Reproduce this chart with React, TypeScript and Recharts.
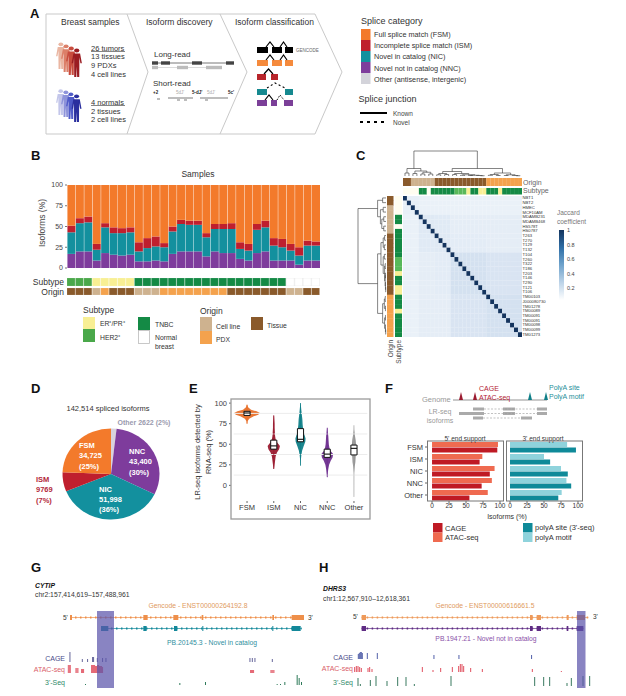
import React from 'react';
import {
  BarChart, Bar, XAxis, YAxis, Cell, PieChart, Pie, ScatterChart, Scatter, ComposedChart, Area,
  ReferenceArea, ReferenceLine,
} from 'recharts';

// ---------- Palette
const C = { fsm: '#f37a2b', ism: '#bf1f2e', nic: '#13909e', nnc: '#7e3c9c', other: '#d3d3da' };

// ---------- Panel B
const nncB = [17, 20, 20, 9, 18, 16, 15, 16, 8, 8, 9, 8, 17, 20, 20, 20, 14, 20, 18, 18, 11, 9, 18, 20, 9, 9, 9, 4, 9, 9];
const nicB = [26, 34, 35, 13, 31, 26, 27, 27, 12, 16, 17, 17, 27, 33, 32, 32, 23, 27, 29, 29, 12, 12, 28, 29, 18, 16, 12, 11, 18, 18];
const ismB = [8, 6, 7, 7, 5, 7, 6, 6, 11, 12, 12, 5, 6, 5, 5, 5, 5, 6, 6, 7, 8, 8, 7, 8, 9, 10, 8, 10, 6, 5];
const fsmB = [49, 40, 38, 71, 46, 51, 52, 51, 69, 64, 62, 70, 50, 42, 43, 43, 58, 47, 47, 46, 69, 71, 47, 43, 64, 65, 71, 75, 67, 68];
const subtypeB = ['H','H','H','E','E','E','E','E','T','T','T','T','T','T','T','T','T','T','T','T','T','T','T','T','T','T','N','N','N','N'];
const originB = ['Ti','Ti','Ti','Ce','Pd','Ti','Ti','Ti','Ce','Ce','Ce','Pd','Pd','Pd','Pd','Pd','Pd','Pd','Pd','Ti','Ti','Ti','Ti','Ti','Ti','Ti','Ce','Ce','Ti','Ti'];
const stripColors: Record<string, string> = { H: '#4aa84a', E: '#f8ef94', T: '#148a45', N: '#ffffff', L: '#58b85a', Ti: '#8a5a2b', Ce: '#ceb28f', Pd: '#f4a24d', W: '#fffdf0' };
const rowsB = nncB.map((_, i) => ({ s: i, nnc: nncB[i], nic: nicB[i], ism: ismB[i], fsm: fsmB[i] }));

// ---------- Panel C
const heatLabels = ['NBT1','NBT2','HMEC','MCF10AM','MDAMB231','MDAMB468','HS578T','HS0787','T263','T270','T129','T132','T104','T260','T322','T186','T203','T146','T290','T121','T106','TM00103','J000080730','TM01278','TM00089','TM00091','TM00091','TM00098','TM00099','TM01273'];
const heatOrigin = ['Ti','Ti','Ce','Ce','Ce','Ce','Ce','Ce','Ti','Ti','Ti','Ti','Ti','Ti','Ti','Ti','Ti','Ti','Ti','Ti','Ti','Pd','Pd','Pd','Pd','Pd','Pd','Pd','Pd','Pd'];
const heatSubtype = ['N','N','N','N','T','T','N','T','T','T','T','T','T','L','L','L','E','T','T','E','E','T','T','T','E','T','T','T','T','T'];
const heatGroup = [0,0,0,0,1,1,1,1,2,2,2,2,3,3,3,3,3,3,3,3,3,4,4,4,4,4,4,4,4,4];
const jaccardByGroup = [
  [0.14, 0.12, 0.12, 0.12, 0.12],
  [0.12, 0.2, 0.19, 0.16, 0.16],
  [0.12, 0.19, 0.2, 0.17, 0.16],
  [0.12, 0.16, 0.17, 0.27, 0.24],
  [0.12, 0.16, 0.16, 0.24, 0.27],
];
const jaccardStops: [number, string][] = [[0, '#ffffff'], [0.12, '#eaf1f8'], [0.2, '#dfe9f4'], [0.3, '#cfddee'], [0.6, '#6fa3cc'], [0.8, '#2f6ea6'], [1, '#14345e']];
type Node = number | [number, Node, Node];
const dendroTree: Node = [1,
  [0.3, [0.12, 0, 1], [0.2, [0.1, 2, 3], [0.15, [0.08, 4, 5], [0.08, 6, 7]]]],
  [0.3,
    [0.18, [0.1, [0.05, 8, 9], [0.06, 10, 11]], [0.1, [0.06, 12, 13], [0.05, [0.03, 14, 15], [0.03, [0.02, 16, 17], [0.02, 18, [0.01, 19, 20]]]]]],
    [0.12, [0.06, [0.03, 21, 22], [0.02, 23, 24]], [0.05, [0.02, 25, 26], [0.02, 27, [0.01, 28, 29]]]],
  ],
];
const jaccardTicks = [1, 0.8, 0.6, 0.4, 0.2];

// ---------- Panel D
const pieNames = ['Other', 'NNC', 'NIC', 'ISM', 'FSM'];
const pieValues = [2622, 43400, 51998, 9769, 34725];
const pieColors = ['#d8d2dc', C.nnc, C.nic, C.ism, C.fsm];

// ---------- Panel E
const violinNames = ['FSM', 'ISM', 'NIC', 'NNC', 'Other'];
const violinColors = ['#e8702a', '#9b1b30', '#0f7f88', '#6f2f8f', '#777777'];
const violinY = [
  [75, 78, 81, 84, 86, 88, 90, 92, 95, 98],
  [20, 25, 30, 35, 40, 44, 48, 52, 56, 60, 65, 70, 75, 80, 85],
  [24, 30, 36, 42, 48, 53, 57, 62, 68, 74, 80, 86, 92, 100],
  [10, 15, 20, 25, 30, 34, 38, 42, 46, 50, 55, 60, 65, 70],
  [-14, 0, 15, 23, 28, 35, 45, 50, 55, 62, 68, 73],
];
const violinW = [
  [0.01, 0.02, 0.08, 0.25, 0.42, 0.48, 0.36, 0.15, 0.04, 0.01],
  [0.01, 0.03, 0.05, 0.07, 0.12, 0.2, 0.23, 0.13, 0.07, 0.05, 0.04, 0.03, 0.03, 0.02, 0.01],
  [0.005, 0.01, 0.03, 0.06, 0.12, 0.18, 0.19, 0.14, 0.1, 0.08, 0.07, 0.05, 0.03, 0.005],
  [0.005, 0.02, 0.04, 0.07, 0.13, 0.2, 0.22, 0.12, 0.08, 0.06, 0.05, 0.04, 0.02, 0.005],
  [0.004, 0.005, 0.006, 0.03, 0.05, 0.06, 0.08, 0.07, 0.06, 0.03, 0.008, 0.004],
];
const tailColors = ['#e8702a', '#9b1b30', '#0f7f88', '#6f2f8f', '#c4c4c4'];
const boxQ1 = [85, 44, 53, 34, 37];
const boxQ3 = [90, 55, 69, 44, 49];
const boxMed = [88, 48, 56, 38, 45];
const minorGrid = [12.5, 37.5, 62.5, 87.5];
const violinRows: any[] = [];
violinY.forEach((ys, k) => ys.forEach((y, j) => {
  violinRows.push({ y, ['v' + k]: [k + 1 - violinW[k][j], k + 1 + violinW[k][j]] });
}));

// ---------- Panel F
const supportCats = ['FSM', 'ISM', 'NIC', 'NNC', 'Other'];
const atac = [97, 74, 92, 88, 82];
const cage = [96, 70, 85, 73, 55];
const motif = [84, 50, 75, 83, 76];
const site = [97, 59, 85, 90, 71];
const rowsF = supportCats.map((c, i) => ({ c, atac: atac[i], cage: cage[i], motif: motif[i], site: site[i] }));

// ---------- Panels G/H (positions along each locus, heights of signal)
const gCagePos = [150, 187, 203, 218, 221, 232, 248, 258, 690, 697, 705, 757];
const gCageH = [10, 3, 3, 5, 5, 4, 4, 4, 4, 4, 4, 3];
const gAtacPos = [145, 148, 151, 168, 171, 174, 185, 188, 191, 215, 218, 221, 224, 227, 230, 233, 236, 239, 242, 245, 248, 692, 695, 698, 701, 753, 756, 759, 762];
const gAtacH = [8, 8, 8, 5, 5, 5, 4, 4, 4, 8, 8, 8, 8, 7, 7, 8, 8, 7, 7, 7, 6, 3, 3, 3, 3, 3, 3, 3, 3];
const gSeqPos = [195, 478, 555, 770, 780, 793, 830, 836, 843];
const gSeqH = [1, 2, 3, 1, 1, 3, 10, 7, 3];
const gExonA = [[150, 156], [370, 383], [460, 475], [545, 550], [757, 762], [815, 852]];
const gExonB = [[243, 265], [370, 380], [462, 472], [547, 550], [757, 760], [815, 842]];
const hCagePos = [145, 148, 151, 154, 157, 172, 202, 372, 447, 665];
const hCageH = [5, 6, 7, 7, 6, 6, 6, 4, 4, 4];
const hAtacPos = [135, 140, 145, 150, 155, 175, 180, 187, 338, 370, 393, 428, 447, 452, 457, 462, 483, 518, 668, 755];
const hAtacH = [5, 6, 6, 5, 4, 4, 5, 3, 5, 2, 4, 5, 6, 8, 8, 6, 4, 3, 3, 1];
const hSeqPos = [143, 150, 180, 197, 230, 262, 287, 312, 422, 673, 700, 718, 770, 783, 818, 838];
const hSeqH = [8, 2, 6, 10, 5, 9, 9, 2, 10, 9, 9, 9, 3, 8, 10, 10];
const hExonA = [[155, 168], [660, 668], [680, 693], [770, 776], [800, 825]];
const hExonB = [[155, 168], [660, 668], [680, 693], [770, 775], [800, 820]];

// ---------- helpers
const FONT = '"Liberation Sans", Arial, sans-serif';

function jaccardColor(v: number) {
  for (let i = 1; i < jaccardStops.length; i++) {
    if (v <= jaccardStops[i][0]) {
      const [a, ca] = jaccardStops[i - 1];
      const [b, cb] = jaccardStops[i];
      const t = (v - a) / (b - a);
      const p = (s: string, o: number) => parseInt(s.slice(o, o + 2), 16);
      const m = (o: number) => Math.round(p(ca, o) + (p(cb, o) - p(ca, o)) * t);
      return `rgb(${m(1)},${m(3)},${m(5)})`;
    }
  }
  return '#14345e';
}
const heatCells: any[] = [];
heatLabels.forEach((_, r) => heatLabels.forEach((__, c) => {
  heatCells.push({ x: c, y: r, v: r === c ? 1 : jaccardByGroup[heatGroup[r]][heatGroup[c]] });
}));

const At = ({ x, y, children, style }: any) => (
  <div style={{ position: 'absolute', left: x, top: y, ...style }}>{children}</div>
);

const T = ({ x, y, s = 7, c = '#333', a = 'start', b, i, rot, children }: any) => (
  <text
    x={x} y={y} fontSize={s} fill={c} textAnchor={a} fontWeight={b ? 'bold' : 'normal'}
    fontStyle={i ? 'italic' : 'normal'} dominantBaseline="central"
    transform={rot !== undefined ? `rotate(${rot} ${x} ${y})` : undefined}
  >{children}</text>
);

const Strip = ({ values, x, y, w, h, vertical, plain }: any) => {
  const data = values.map((k: string, idx: number) => ({ idx, k, one: 1 }));
  return (
    <At x={x} y={y}>
      <BarChart width={w} height={h} data={data} margin={{ top: 0, right: 0, bottom: 0, left: 0 }}
        layout={vertical ? 'vertical' : 'horizontal'} barCategoryGap={0}>
        {vertical ? <XAxis type="number" hide domain={[0, 1]} /> : <XAxis type="category" dataKey="idx" hide />}
        {vertical ? <YAxis type="category" dataKey="idx" hide /> : <YAxis type="number" hide domain={[0, 1]} />}
        <Bar dataKey="one" isAnimationActive={false}>
          {data.map((d: any) => (
            <Cell key={d.idx} fill={plain && d.k === 'N' ? stripColors.W : stripColors[d.k]}
              stroke={plain ? 'none' : d.k === 'N' ? '#ddd' : 'rgba(255,255,255,0.35)'} strokeWidth={0.4} />
          ))}
        </Bar>
      </BarChart>
    </At>
  );
};

const Dendro = ({ horizontal }: { horizontal: boolean }) => {
  const segs: string[] = [];
  const px = (leaf: number) => horizontal ? 403 + (leaf + 0.5) * 3.97 : 195.6 + (leaf + 0.5) * 4.7;
  const ph = (h: number) => horizontal ? 176 - h * 25 : 386 - h * 28;
  const walk = (n: Node): { c: number; h: number } => {
    if (typeof n === 'number') return { c: px(n), h: 0 };
    const l = walk(n[1]);
    const r = walk(n[2]);
    const H = ph(n[0]);
    if (horizontal) segs.push(`M${l.c} ${ph(l.h)}V${H}H${r.c}V${ph(r.h)}`);
    else segs.push(`M${ph(l.h)} ${l.c}H${H}V${r.c}H${ph(r.h)}`);
    return { c: (l.c + r.c) / 2, h: n[0] };
  };
  walk(dendroTree);
  return <path d={segs.join('')} fill="none" stroke="#333" strokeWidth={0.6} />;
};

const Person = ({ x, y, h, color }: any) => {
  const k = h / 36;
  return (
    <g transform={`translate(${x} ${y}) scale(${k * 1.3} ${k})`} fill={color}>
      <circle cx={5} cy={3} r={2.5} />
      <path d="M1.8 6.8L8.2 6.8L9.9 19L8.5 19L7.5 11.5L7.5 22L7.4 36L5.4 36L5 23L4.6 36L2.6 36L2.5 22L2.5 11.5L1.5 19L0.1 19Z" />
    </g>
  );
};

const Exons = ({ y, color, rows, h = 6 }: any) => (
  <g>
    {rows.map(([a, b]: number[], i: number) => <rect key={i} x={a} y={y - h / 2} width={b - a} height={h} fill={color} />)}
  </g>
);

const Arch = ({ a, b, y, c, dash }: any) => (
  <path d={`M${a - 2} ${y}L${(a + b) / 2} ${y - 5}L${b + 2} ${y}`} fill="none" stroke={c} strokeWidth={1.2} strokeDasharray={dash ? '2 1.5' : undefined} />
);

const Signal = ({ x, y, w, h, max, pos, val, color }: any) => {
  const data = pos.map((p: number, i: number) => ({ p, v: val[i] }));
  return (
    <At x={x} y={y}>
      <BarChart width={w} height={h} data={data} margin={{ top: 0, right: 0, bottom: 0, left: 0 }}>
        <XAxis type="number" dataKey="p" domain={[0, 900]} hide />
        <YAxis type="number" domain={[0, max]} hide />
        <Bar dataKey="v" fill={color} barSize={1} isAnimationActive={false} />
      </BarChart>
    </At>
  );
};

const Gene = ({ x, y, from, to, exons, color }: any) => (
  <At x={x} y={y - 2.5}>
    <ComposedChart width={300} height={5} data={[{ p: 0, v: 0 }, { p: 900, v: 0 }]} margin={{ top: 0, right: 0, bottom: 0, left: 0 }}>
      <XAxis type="number" dataKey="p" domain={[0, 900]} hide />
      <YAxis type="number" domain={[-1, 1]} hide />
      <Area dataKey="v" stroke="none" fill="none" isAnimationActive={false} />
      <ReferenceLine segment={[{ x: from, y: 0 }, { x: to, y: 0 }]} stroke={color} strokeWidth={0.7} />
      <ReferenceLine segment={[{ x: from, y: 0 }, { x: to, y: 0 }]} stroke={color} strokeWidth={1.8} strokeDasharray="1.5 3.5" />
      {exons.map(([a, b]: number[], i: number) => (
        <ReferenceArea key={i} x1={a} x2={b} y1={-1} y2={1} fill={color} fillOpacity={1} stroke="none" />
      ))}
    </ComposedChart>
  </At>
);

const Frame = ({ x, y, w, h, c = '#777', sw = 1 }: any) => (
  <rect x={x} y={y} width={w} height={h} fill="none" stroke={c} strokeWidth={sw} />
);

export default function App() {
  return (
    <div style={{ position: 'absolute', left: 0, top: 0, width: 626, height: 696, overflow: 'hidden', background: '#fff', fontFamily: FONT }}>
      {/* Panel B */}
      <At x={30} y={180}>
        <BarChart width={290} height={92} data={rowsB} margin={{ top: 5, right: 0, bottom: 4, left: 0 }} barCategoryGap="5%">
          <XAxis dataKey="s" hide />
          <YAxis width={37} domain={[0, 100]} ticks={[0, 25, 50, 75, 100]} axisLine={false} tickSize={2} tick={{ fontSize: 7, fill: '#444' }} tickLine={{ stroke: '#777' }} />
          <Bar dataKey="nnc" stackId="a" fill={C.nnc} isAnimationActive={false} />
          <Bar dataKey="nic" stackId="a" fill={C.nic} isAnimationActive={false} />
          <Bar dataKey="ism" stackId="a" fill={C.ism} isAnimationActive={false} />
          <Bar dataKey="fsm" stackId="a" fill={C.fsm} isAnimationActive={false} />
        </BarChart>
      </At>
      <Strip values={subtypeB} x={67} y={278} w={253} h={8} />
      <Strip values={originB} x={67} y={288} w={253} h={7} />

      {/* Panel C */}
      <Strip values={heatOrigin} x={403} y={178} w={119} h={8} plain />
      <Strip values={heatSubtype} x={403} y={188} w={119} h={6.5} plain />
      <Strip values={heatOrigin} x={387} y={195.6} w={6.5} h={141} vertical plain />
      <Strip values={heatSubtype} x={394.5} y={195.6} w={7} h={141} vertical plain />
      <At x={403} y={195.6}>
        <ScatterChart width={119} height={141} margin={{ top: 0, right: 0, bottom: 0, left: 0 }}>
          <XAxis type="number" dataKey="x" domain={[-0.5, 29.5]} hide />
          <YAxis type="number" dataKey="y" domain={[-0.5, 29.5]} reversed hide />
          <Scatter data={heatCells} isAnimationActive={false}
            shape={(p: any) => <rect x={p.cx - 2.05} y={p.cy - 2.4} width={4.1} height={4.8} fill={jaccardColor(p.payload.v)} />} />
        </ScatterChart>
      </At>

      {/* Panel D */}
      <At x={60} y={423} style={{ transform: 'scaleY(0.94)' }}>
        <PieChart width={102} height={102} margin={{ top: 0, right: 0, bottom: 0, left: 0 }}>
          <Pie data={pieNames.map((n, i) => ({ n, v: pieValues[i] }))} dataKey="v" nameKey="n" cx={51} cy={51} innerRadius={0} outerRadius={48.5}
            startAngle={90} endAngle={-270} stroke="none" isAnimationActive={false}>
            {pieColors.map((c, i) => <Cell key={i} fill={c} />)}
          </Pie>
        </PieChart>
      </At>

      {/* Panel E */}
      <At x={200} y={395}>
        <ComposedChart width={172} height={142} data={violinRows} layout="vertical" margin={{ top: 4, right: 2, bottom: 18, left: 0 }}>
          <XAxis type="number" domain={[0.4, 5.6]} ticks={[1, 2, 3, 4, 5]} tickFormatter={(v: number) => violinNames[v - 1]} interval={0}
            axisLine={false} tickSize={2} tick={{ fontSize: 7.5, fill: '#333' }} height={18} />
          <YAxis type="number" dataKey="y" domain={[-19, 105]} reversed ticks={[0, 25, 50, 75, 100]} width={31} axisLine={false} tickSize={2} tick={{ fontSize: 7.5, fill: '#444' }} />
          {minorGrid.map((g) => (
            <ReferenceLine key={'g' + g} segment={[{ x: 0.5, y: g }, { x: 5.5, y: g }]} stroke="#ececec" strokeWidth={1} />
          ))}
          {violinNames.map((_, k) => (
            <ReferenceLine key={'t' + k}
              segment={[{ x: k + 1, y: violinY[k][0] }, { x: k + 1, y: violinY[k][violinY[k].length - 1] }]}
              stroke={tailColors[k]} strokeWidth={0.8} />
          ))}
          {violinNames.map((_, k) => (
            <Area key={k} dataKey={'v' + k} stroke="none" fill={violinColors[k]} fillOpacity={0.95} isAnimationActive={false} dot={false} activeDot={false} />
          ))}
          {violinNames.map((_, k) => (
            <ReferenceArea key={'b' + k} x1={k + 1 - 0.115} x2={k + 1 + 0.115} y1={boxQ1[k]} y2={boxQ3[k]} fill="#fff" fillOpacity={1} stroke="#111" strokeWidth={1} zIndex={900} />
          ))}
          {violinNames.map((_, k) => (
            <ReferenceLine key={'m' + k} segment={[{ x: k + 1 - 0.115, y: boxMed[k] }, { x: k + 1 + 0.115, y: boxMed[k] }]} stroke="#111" strokeWidth={1.1} zIndex={901} />
          ))}
        </ComposedChart>
      </At>

      {/* Panel F */}
      <At x={400} y={441}>
        <BarChart width={111} height={74} data={rowsF} layout="vertical" margin={{ top: 0, right: 8, bottom: 0, left: 0 }} barSize={5} barGap={0.5}>
          <XAxis type="number" domain={[-7.4, 104.4]} ticks={[0, 25, 50, 75, 100]} interval={0} axisLine={false} tickSize={2} tickMargin={0} tick={{ fontSize: 6.5, fill: '#333' }} height={14} allowDataOverflow />
          <YAxis type="category" dataKey="c" width={27} axisLine={false} tickSize={2} tick={{ fontSize: 7.5, fill: '#333' }} interval={0} />
          <Bar dataKey="atac" fill="#ef6a50" isAnimationActive={false} />
          <Bar dataKey="cage" fill="#bf1a24" isAnimationActive={false} />
        </BarChart>
      </At>
      <At x={501} y={441}>
        <BarChart width={90} height={74} data={rowsF} layout="vertical" margin={{ top: 0, right: 9, bottom: 0, left: 5 }} barSize={5} barGap={0.5}>
          <XAxis type="number" domain={[-5.9, 105.9]} ticks={[0, 25, 50, 75, 100]} interval={0} axisLine={false} tickSize={2} tickMargin={0} tick={{ fontSize: 6.5, fill: '#333' }} height={14} allowDataOverflow />
          <YAxis type="category" dataKey="c" hide />
          <Bar dataKey="motif" fill="#8fd3dc" isAnimationActive={false} />
          <Bar dataKey="site" fill="#0f8a99" isAnimationActive={false} />
        </BarChart>
      </At>

      {/* Panel G */}
      <Gene x={20} y={617} from={150} to={850} exons={gExonA} color="#ee8f4a" />
      <Gene x={20} y={628} from={243} to={845} exons={gExonB} color="#13889a" />
      <Signal x={20} y={650} w={300} h={12} max={12} pos={gCagePos} val={gCageH} color="#55558f" />
      <Signal x={20} y={663} w={300} h={10} max={10} pos={gAtacPos} val={gAtacH} color="#e0505f" />
      <Signal x={20} y={675} w={300} h={10} max={10} pos={gSeqPos} val={gSeqH} color="#2f7a5a" />

      {/* Panel H */}
      <Gene x={310} y={617} from={155} to={835} exons={hExonA} color="#ee9a5a" />
      <Gene x={310} y={628} from={155} to={820} exons={hExonB} color="#5f2c84" />
      <Signal x={310} y={649} w={300} h={10} max={10} pos={hCagePos} val={hCageH} color="#3f4fa0" />
      <Signal x={310} y={662} w={300} h={10} max={10} pos={hAtacPos} val={hAtacH} color="#e0505f" />
      <Signal x={310} y={676} w={300} h={10} max={10} pos={hSeqPos} val={hSeqH} color="#3a7a60" />

      {/* Text, frames, schematics */}
      <svg width={626} height={696} style={{ position: 'absolute', left: 0, top: 0, pointerEvents: 'none' }} fontFamily={FONT}>
        {/* Panel letters */}
        <T x={30} y={13} s={13} b c="#111">A</T>
        <T x={31} y={155} s={13} b c="#111">B</T>
        <T x={356} y={155} s={13} b c="#111">C</T>
        <T x={31} y={388} s={13} b c="#111">D</T>
        <T x={189} y={388} s={13} b c="#111">E</T>
        <T x={385} y={388} s={13} b c="#111">F</T>
        <T x={31} y={567} s={13} b c="#111">G</T>
        <T x={319} y={567} s={13} b c="#111">H</T>

        {/* Panel A chevrons */}
        <g fill="none" stroke="#c9c9c9" strokeWidth={1}>
          <path d="M46 14H127L148 72L127 134H46Z" />
          <path d="M127 14H220L247 72L220 134H127" />
          <path d="M220 14H315L342 72L315 134H220" />
        </g>
        <T x={61} y={22} s={8.5}>Breast samples</T>
        <T x={146} y={22} s={8.5}>Isoform discovery</T>
        <T x={235} y={22} s={8.5}>Isoform classification</T>
        <Person x={56} y={42} h={27} color="#eab6a2" />
        <Person x={61} y={44} h={28} color="#dc7f68" />
        <Person x={66} y={46} h={29} color="#c84c3e" />
        <Person x={71.5} y={48} h={29} color="#9a1c22" />
        <Person x={56} y={89} h={26} color="#c3c6ea" />
        <Person x={61} y={90} h={27} color="#8d93da" />
        <Person x={66} y={92} h={27} color="#4f5bc8" />
        <Person x={71.5} y={94} h={28} color="#2a2f9e" />
        <T x={91} y={48} s={7.5}>26 tumors</T>
        <line x1={91} x2={125} y1={51.5} y2={51.5} stroke="#333" strokeWidth={0.6} />
        <T x={91} y={56.5} s={7.5}>13 tissues</T>
        <T x={91} y={65} s={7.5}>9 PDXs</T>
        <T x={91} y={74} s={7.5}>4 cell lines</T>
        <T x={91} y={102} s={7.5}>4 normals</T>
        <line x1={91} x2={125} y1={105.5} y2={105.5} stroke="#333" strokeWidth={0.6} />
        <T x={91} y={111} s={7.5}>2 tissues</T>
        <T x={91} y={119.5} s={7.5}>2 cell lines</T>

        <T x={154} y={54} s={8}>Long-read</T>
        <line x1={152} x2={234} y1={63} y2={63} stroke="#555" strokeWidth={0.8} />
        <Exons y={63} h={3.4} color="#444" rows={[[152, 158], [161, 170], [192, 202], [226, 234]]} />
        <line x1={152} x2={222} y1={67.5} y2={67.5} stroke="#ccc" strokeWidth={0.7} />
        <Exons y={67.5} h={3.4} color="#bcbcbc" rows={[[152, 158], [177, 188], [206, 222]]} />
        <T x={153} y={83} s={8}>Short-read</T>
        <T x={153} y={92} s={4.5} b c="#222">+2</T>
        <T x={176} y={92} s={4.5} c="#aaa">5dJ'</T>
        <T x={192} y={92} s={4.5} b c="#222">5-dJ'</T>
        <T x={207} y={92} s={4.5} c="#aaa">5dJ'</T>
        <T x={228} y={92} s={4.5} b c="#222">5c'</T>
        <g stroke="#444" strokeWidth={0.7}>
          <line x1={157} x2={160} y1={99} y2={99} />
          <line x1={168} x2={193} y1={98} y2={98} />
          <line x1={200} x2={228} y1={98} y2={98} />
          <line x1={177} x2={180} y1={100} y2={100} />
          <line x1={184} x2={187} y1={100} y2={100} />
          <line x1={205} x2={208} y1={100} y2={100} />
        </g>

        {/* Isoform glyphs */}
        <Exons y={50} color="#000" rows={[[257, 268], [272, 282], [285, 293]]} />
        <Arch a={268} b={272} y={47} c="#000" /><Arch a={282} b={285} y={47} c="#000" />
        <T x={296} y={50} s={4.5} c="#666">GENCODE</T>
        <Exons y={63} color="#f58a3c" rows={[[257, 268], [272, 282], [285, 293]]} />
        <Arch a={268} b={272} y={60} c="#000" /><Arch a={282} b={285} y={60} c="#000" />
        <Exons y={77} color="#b8252b" rows={[[257, 266], [271, 278]]} />
        <Arch a={266} b={271} y={74} c="#000" />
        <Exons y={92} color="#15898f" rows={[[257, 267], [285, 293]]} />
        <path d="M267 88L275 83L285 88" fill="none" stroke="#000" strokeWidth={1.1} strokeDasharray="2 2.5" />
        <Exons y={103} color="#7b3f98" rows={[[257, 267], [271, 277], [284, 293]]} />
        <Arch a={267} b={271} y={100} c="#000" />
        <path d="M277 100L280 95L284 100" fill="none" stroke="#000" strokeWidth={1} strokeDasharray="1.5 1.5" />

        {/* Splice legend */}
        <T x={361} y={21} s={9}>Splice category</T>
        {[C.fsm, C.ism, C.nic, C.nnc, C.other].map((c, i) => <rect key={c} x={361} y={29 + i * 11} width={9.5} height={11} fill={c} />)}
        {['Full splice match (FSM)', 'Incomplete splice match (ISM)', 'Novel in catalog (NIC)', 'Novel not in catalog (NNC)', 'Other (antisense, intergenic)'].map((t, i) => (
          <T key={t} x={374} y={34.5 + i * 11.2} s={7.3}>{t}</T>
        ))}
        <T x={358.5} y={99} s={9}>Splice junction</T>
        <line x1={360} x2={387} y1={113} y2={113} stroke="#000" strokeWidth={2} />
        <line x1={360} x2={388} y1={122} y2={122} stroke="#000" strokeWidth={2} strokeDasharray="3 4" />
        <T x={393} y={113} s={6.5} c="#444">Known</T>
        <T x={393} y={122} s={6.5} c="#444">Novel</T>

        {/* Panel B text */}
        <T x={198} y={174} s={8.5} a="middle">Samples</T>
        <T x={42} y={223} s={8.5} a="middle" rot={-90} c="#444">Isoforms (%)</T>
        <T x={64} y={282} s={8.5} a="end">Subtype</T>
        <T x={64} y={292} s={8.5} a="end">Origin</T>
        <T x={83} y={310} s={8.5}>Subtype</T>
        <rect x={83} y={317} width={12} height={12} fill={stripColors.E} />
        <rect x={83} y={329} width={12} height={13} fill={stripColors.H} />
        <T x={100} y={323} s={6.8}>ER⁺/PR⁺</T>
        <T x={100} y={337} s={6.8}>HER2⁺</T>
        <rect x={138} y={317} width={12} height={13} fill={stripColors.T} />
        <rect x={138.5} y={330.5} width={11} height={13} fill="#fff" stroke="#bbb" strokeWidth={0.8} />
        <T x={155} y={324} s={6.8}>TNBC</T>
        <T x={155} y={337} s={6.8}>Normal</T>
        <T x={155} y={346} s={6.8}>breast</T>
        <T x={200} y={311} s={8.5}>Origin</T>
        <rect x={200} y={317} width={12} height={14} fill={stripColors.Ce} />
        <rect x={200} y={331} width={12} height={13} fill={stripColors.Pd} />
        <T x={216} y={326} s={6.8}>Cell line</T>
        <T x={216} y={339} s={6.8}>PDX</T>
        <rect x={251} y={317} width={12} height={13} fill={stripColors.Ti} />
        <T x={267} y={325} s={6.8}>Tissue</T>

        {/* Panel C text */}
        <Dendro horizontal />
        <Dendro horizontal={false} />
        {heatLabels.map((l, i) => <T key={i} x={522.5} y={195.6 + (i + 0.5) * 4.7} s={4.2} c="#333">{l}</T>)}
        <T x={523} y={182} s={7} c="#666">Origin</T>
        <T x={523} y={190.5} s={7} c="#666">Subtype</T>
        <T x={390} y={340} s={6.5} a="end" rot={-90} c="#444">Origin</T>
        <T x={398} y={340} s={6.5} a="end" rot={-90} c="#444">Subtype</T>
        <T x={557} y={212} s={6.5} c="#777">Jaccard</T>
        <T x={557} y={221} s={6.5} c="#777">coefficient</T>
        <defs>
          <linearGradient id="jac" x1="0" y1="0" x2="0" y2="1">
            <stop offset="0" stopColor="#14345e" />
            <stop offset="0.25" stopColor="#2f6ea6" />
            <stop offset="0.5" stopColor="#6fa3cc" />
            <stop offset="0.75" stopColor="#bcd3e8" />
            <stop offset="1" stopColor="#ffffff" />
          </linearGradient>
        </defs>
        <rect x={559} y={230} width={5} height={70} fill="url(#jac)" />
        {jaccardTicks.map((t, i) => <T key={t} x={567} y={230 + i * 14.5} s={5.5} c="#444">{t}</T>)}

        {/* Panel D text */}
        <T x={108} y={408} s={7.5} a="middle" c="#333">142,514 spliced isoforms</T>
        <T x={144} y={422} s={7} b a="middle" c="#9a9aae">Other 2622 (2%)</T>
        {['FSM', '34,725', '(25%)'].map((t, i) => <T key={t} x={79} y={445 + i * 10.5} s={7.5} b c="#fff">{t}</T>)}
        {['NNC', '43,400', '(30%)'].map((t, i) => <T key={t} x={129} y={451 + i * 10.5} s={7.5} b c="#fff">{t}</T>)}
        {['NIC', '51,998', '(36%)'].map((t, i) => <T key={t} x={99} y={489 + i * 10} s={7.5} b c="#fff">{t}</T>)}
        {['ISM', '9769', '(7%)'].map((t, i) => <T key={t} x={36} y={479 + i * 10.5} s={7.5} b c="#b2283a">{t}</T>)}

        {/* Panel E text */}
        <Frame x={231} y={399} w={139} h={120} c="#9a9a9a" sw={1.3} />
        <T x={197} y={452} s={7.5} a="middle" rot={-90}>LR-seq isoforms detected by</T>
        <T x={208} y={452} s={7.5} a="middle" rot={-90}>RNA-seq (%)</T>

        {/* Panel F schematic */}
        <T x={422} y={399} s={7.5} c="#999">Genome</T>
        <line x1={453} x2={547} y1={400} y2={400} stroke="#666" strokeWidth={0.7} />
        <path d="M459 400L461 392L463 400Z M473 400L475 392L477 400Z" fill="#9b1b30" />
        <path d="M528 400L530 392L532 400Z M544 400L546 392L548 400Z" fill="#0f7f88" />
        <T x={479} y={388} s={7} c="#b22234">CAGE</T>
        <T x={479} y={397} s={7} c="#b22234">ATAC-seq</T>
        <T x={549} y={387} s={7} c="#1f8f9a">PolyA site</T>
        <T x={549} y={396} s={7} c="#1f8f9a">PolyA motif</T>
        <T x={440} y={411} s={7} a="middle" c="#999">LR-seq</T>
        <T x={440} y={420} s={7} a="middle" c="#999">isoforms</T>
        <g fill="#aaa">
          <rect x={473} y={407.5} width={11} height={3} /><rect x={503} y={407.5} width={12} height={3} /><rect x={537} y={407.5} width={10} height={3} />
          <rect x={459} y={412} width={25} height={3} /><rect x={503} y={412} width={12} height={3} /><rect x={537} y={412} width={10} height={3} />
          <rect x={473} y={416.5} width={10} height={3} /><rect x={521} y={416.5} width={11} height={3} />
        </g>
        <g stroke="#999" strokeWidth={0.6} strokeDasharray="2 1.5">
          <line x1={484} x2={537} y1={409} y2={409} />
          <line x1={484} x2={537} y1={413.5} y2={413.5} />
          <line x1={483} x2={521} y1={418} y2={418} />
        </g>
        <T x={465} y={438} s={6.5} a="middle">5' end support</T>
        <T x={543} y={438} s={6.5} a="middle">3' end support</T>
        <Frame x={427.5} y={441} w={76} h={60} />
        <Frame x={506.5} y={441} w={76} h={60} />
        <T x={507} y={516} s={7} a="middle">Isoforms (%)</T>
        <rect x={433} y={523} width={9.5} height={9.5} fill="#bf1a24" />
        <rect x={433} y={532.5} width={9.5} height={9.5} fill="#ef6a50" />
        <T x={445} y={528} s={7.5}>CAGE</T>
        <T x={445} y={537} s={7.5}>ATAC-seq</T>
        <rect x={523} y={523} width={9.5} height={9.5} fill="#0f8a99" />
        <rect x={523} y={532.5} width={9.5} height={9.5} fill="#8fd3dc" />
        <T x={535} y={527} s={7.5}>polyA site (3'-seq)</T>
        <T x={535} y={537} s={7.5}>polyA motif</T>

        {/* Panel G text */}
        <T x={35} y={585} s={6.8} b i c="#111">CYTIP</T>
        <T x={35} y={594} s={6.8}>chr2:157,414,619–157,488,961</T>
        <T x={198} y={605} s={6.8} a="middle" c="#e09a60">Gencode - ENST00000264192.8</T>
        <T x={63} y={617} s={6.5}>5'</T>
        <T x={308} y={617} s={6.5}>3'</T>
        <T x={212} y={642} s={6.8} a="middle" c="#2f8fa0">PB.20145.3 - Novel in catalog</T>
        <T x={65} y={658} s={7} a="end" c="#4a4a8a">CAGE</T>
        <T x={65} y={669} s={7} a="end" c="#d9606a">ATAC-seq</T>
        <T x={65} y={682} s={7} a="end" c="#2f8a6a">3'-Seq</T>
        <rect x={97} y={611} width={17} height={77} fill="#5b55ab" fillOpacity={0.72} />

        {/* Panel H text */}
        <T x={323} y={588} s={6.8} b i c="#111">DHRS3</T>
        <T x={323} y={598} s={6.8}>chr1:12,567,910–12,618,361</T>
        <T x={485} y={605} s={6.8} a="middle" c="#e09a60">Gencode - ENST00000616661.5</T>
        <T x={353} y={616} s={6.5}>5'</T>
        <T x={593} y={616} s={6.5}>3'</T>
        <T x={486} y={638} s={6.8} a="middle" c="#8a4fa8">PB.1947.21 - Novel not in catalog</T>
        <T x={353} y={657} s={7} a="end" c="#4a4a8a">CAGE</T>
        <T x={353} y={668} s={7} a="end" c="#d9606a">ATAC-seq</T>
        <T x={353} y={682} s={7} a="end" c="#2f8a6a">3'-Seq</T>
        <rect x={577} y={611} width={8.5} height={77} fill="#5b55ab" fillOpacity={0.72} />
      </svg>
    </div>
  );
}
